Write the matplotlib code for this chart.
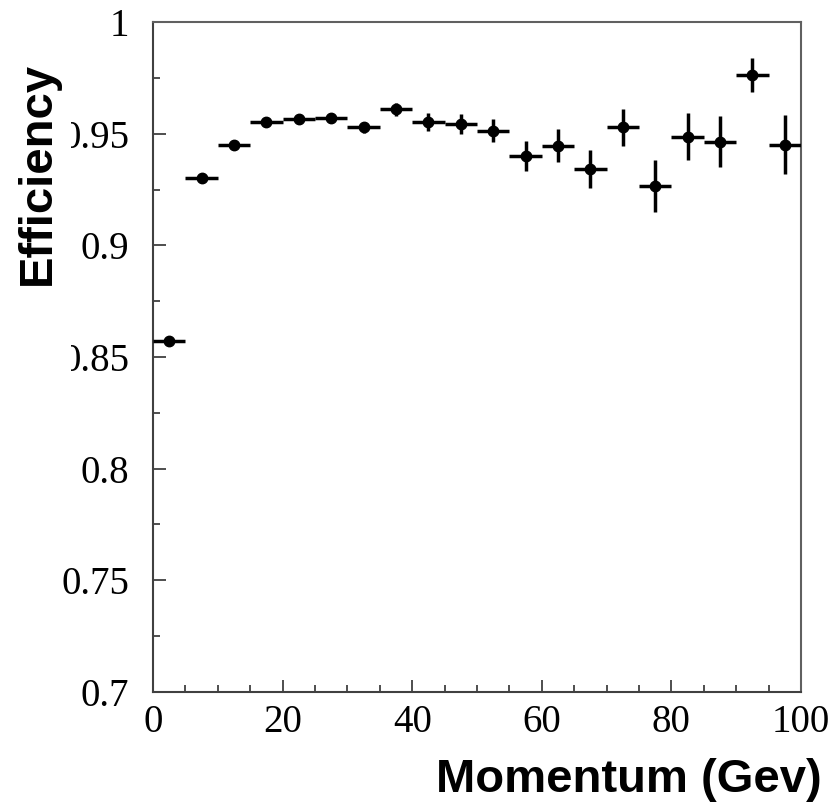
import numpy as np
import matplotlib
matplotlib.use("Agg")
import matplotlib.pyplot as plt
from matplotlib.ticker import MultipleLocator, FuncFormatter
from matplotlib.patches import Rectangle

# ---------- данные ----------
momentum = [2.5, 7.5, 12.5, 17.5, 22.5, 27.5, 32.5, 37.5, 42.5, 47.5,
            52.5, 57.5, 62.5, 67.5, 72.5, 77.5, 82.5, 87.5, 92.5, 97.5]
bin_half = [2.5] * 20
efficiency = [0.8573, 0.9302, 0.9451, 0.9553, 0.9566, 0.9569, 0.9528, 0.9609, 0.9551, 0.9542,
              0.9513, 0.9400, 0.9446, 0.9342, 0.9528, 0.9267, 0.9487, 0.9464, 0.9763, 0.9451]
eff_err = [0.0005, 0.0008, 0.0010, 0.0012, 0.0012, 0.0014, 0.0026, 0.0028, 0.0040, 0.0045,
           0.0052, 0.0067, 0.0074, 0.0085, 0.0084, 0.0116, 0.0107, 0.0114, 0.0078, 0.0132]

W, H = 836, 808
fig = plt.figure(figsize=(W / 100, H / 100), dpi=100)
ax = fig.add_axes([153 / W, 1 - 692 / H, (801 - 153) / W, (692 - 22) / H])

ax.errorbar(momentum, efficiency, xerr=bin_half, yerr=eff_err, fmt="o",
            color="black", ms=7.5, elinewidth=2.5, capsize=0, zorder=3)

ax.set_xlim(0, 100)
ax.set_ylim(0.7, 1.0)
ax.xaxis.set_major_locator(MultipleLocator(20))
ax.xaxis.set_minor_locator(MultipleLocator(5))
ax.yaxis.set_major_locator(MultipleLocator(0.05))
ax.yaxis.set_minor_locator(MultipleLocator(0.025))
ax.xaxis.set_major_formatter(FuncFormatter(lambda v, p: "%g" % v))
ax.yaxis.set_major_formatter(FuncFormatter(lambda v, p: "%g" % round(v, 3)))

for sp in ax.spines.values():
    sp.set_color("#606060")
    sp.set_linewidth(1.5)
ax.spines["left"].set_color("#404040")
ax.spines["bottom"].set_color("#404040")

ax.tick_params(which="both", direction="in", color="#404040", width=1.3,
               labelsize=28, top=False, right=False)
ax.tick_params(which="major", length=9)
ax.tick_params(which="minor", length=5)
ax.tick_params(axis="y", pad=17)
ax.tick_params(axis="x", pad=9)
for lab in ax.get_xticklabels() + ax.get_yticklabels():
    lab.set_family("Liberation Serif")

# белая полоса слева, как в оригинале (обрезает «0» у 0.95 и 0.85)
fig.add_artist(Rectangle((0, 1 - 375 / H), 71 / W, 325 / H, transform=fig.transFigure,
                         facecolor="white", edgecolor="none", zorder=2))

# подписи осей
fig.text(822 / W, 1 - 780 / H, "Momentum (Gev)", ha="right", va="center",
         fontsize=34, fontweight="bold", family="Liberation Sans")
fig.text(38 / W, 1 - 62 / H, "Efficiency", ha="center", va="top", rotation=90,
         fontsize=34, fontweight="bold", family="Liberation Sans", zorder=3)

fig.savefig("out.png", dpi=100)
